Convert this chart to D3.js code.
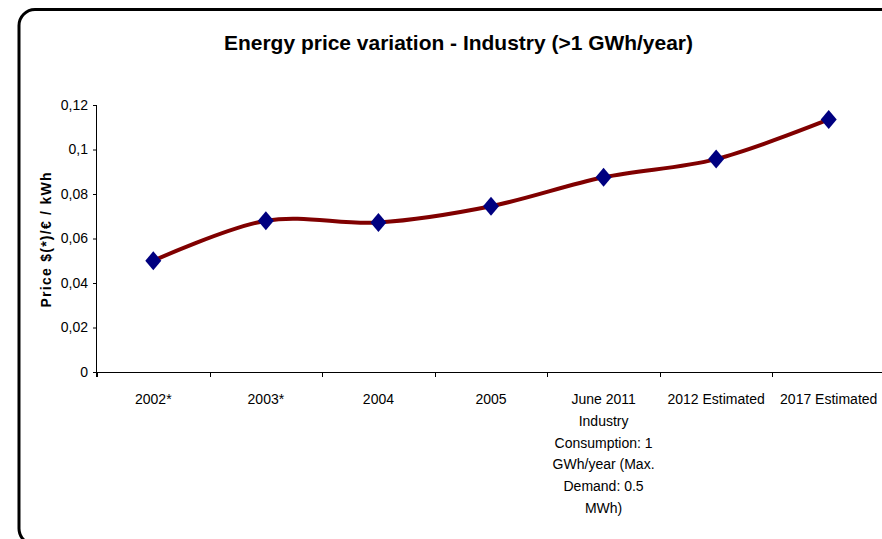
<!DOCTYPE html>
<html>
<head>
<meta charset="utf-8">
<script src="https://cdn.jsdelivr.net/npm/d3@7"></script>
<style>
  html, body { margin: 0; padding: 0; background: #fff; }
  svg { display: block; }
  text { font-family: "Liberation Sans", Arial, sans-serif; fill: #000; }
</style>
</head>
<body>
<svg id="chart" width="882" height="539"></svg>
<script>
const title = "Energy price variation - Industry (>1 GWh/year)";
const yAxisTitle = "Price $(*)/€ / kWh";
const categories = ["2002*", "2003*", "2004", "2005",
  "June 2011 Industry Consumption: 1 GWh/year (Max. Demand: 0.5 MWh)",
  "2012 Estimated", "2017 Estimated"];
const prices = [0.050, 0.068, 0.0672, 0.0745, 0.0875, 0.0957, 0.1135];
const yTicks = [0, 0.02, 0.04, 0.06, 0.08, 0.1, 0.12];

const svg = d3.select("#chart");

// outer rounded frame
svg.append("rect")
  .attr("x", 19).attr("y", 9.5)
  .attr("width", 900).attr("height", 535)
  .attr("rx", 16).attr("ry", 16)
  .attr("fill", "#fff").attr("stroke", "#000").attr("stroke-width", 3);

const plot = { left: 97, right: 885, top: 105, bottom: 372 };

const x = d3.scaleBand().domain(categories).range([plot.left, plot.right]);
const y = d3.scaleLinear().domain([0, 0.12]).range([plot.bottom, plot.top]);

const locale = d3.formatLocale({ decimal: ",", thousands: ".", grouping: [3], currency: ["", "€"] });
const fmt = locale.format("~g");

// title
svg.append("text")
  .attr("x", 458.5).attr("y", 50)
  .attr("text-anchor", "middle")
  .attr("font-size", 21).attr("font-weight", "bold")
  .attr("textLength", 469).attr("lengthAdjust", "spacingAndGlyphs")
  .text(title);

// y axis
const yAxis = svg.append("g")
  .attr("transform", `translate(${plot.left},0)`)
  .call(d3.axisLeft(y).tickValues(yTicks).tickFormat(fmt).tickSize(4).tickPadding(5));
yAxis.select(".domain").attr("stroke", "#000").attr("d", `M-0.5,${plot.top}V${plot.bottom + 5}`);
yAxis.selectAll(".tick line").attr("stroke", "#000");
yAxis.selectAll(".tick text").attr("font-size", 14).attr("font-family", "Liberation Sans, Arial, sans-serif");

// x axis
const xAxis = svg.append("g")
  .attr("transform", `translate(0,${plot.bottom})`)
  .call(d3.axisBottom(x).tickSize(0).tickPadding(0));
xAxis.select(".domain").attr("stroke", "#000").attr("d", `M${plot.left},0.5H${plot.right}`);
xAxis.selectAll(".tick line").remove();
// boundary ticks between categories
const bounds = categories.map(c => x(c)).concat([plot.right]);
xAxis.selectAll("line.bound").data(bounds).enter().append("line")
  .attr("class", "bound")
  .attr("x1", d => Math.round(d) + 0.5).attr("x2", d => Math.round(d) + 0.5)
  .attr("y1", 0).attr("y2", 5).attr("stroke", "#000");

// wrap x labels
xAxis.selectAll(".tick text").each(function(d) {
  const t = d3.select(this);
  t.text(null)
    .attr("font-size", 14).attr("font-family", "Liberation Sans, Arial, sans-serif")
    .attr("x", 0).attr("y", 0).attr("dy", null);
  const words = d.split(/\s+/);
  const maxW = 110;
  let lines = [], line = [];
  let tspan = t.append("tspan");
  words.forEach(w => {
    line.push(w);
    tspan.text(line.join(" "));
    if (tspan.node().getComputedTextLength() > maxW && line.length > 1) {
      line.pop();
      lines.push(line.join(" "));
      line = [w];
    }
  });
  lines.push(line.join(" "));
  t.text(null);
  lines.forEach((l, i) => {
    t.append("tspan").attr("x", 0).attr("y", 32 + i * 21.8).text(l);
  });
});

// y axis title
svg.append("text")
  .attr("transform", `translate(51,240) rotate(-90)`)
  .attr("text-anchor", "middle")
  .attr("font-size", 14).attr("font-weight", "bold")
  .attr("textLength", 135).attr("lengthAdjust", "spacing")
  .text(yAxisTitle);

// line
const pts = categories.map((c, i) => [x(c) + x.bandwidth() / 2, y(prices[i])]);
svg.append("path")
  .attr("d", d3.line().curve(d3.curveCatmullRom.alpha(0))(pts))
  .attr("fill", "none").attr("stroke", "#800000").attr("stroke-width", 4)
  .attr("stroke-linejoin", "round");

// diamonds
svg.selectAll("path.marker").data(pts).enter().append("path")
  .attr("class", "marker")
  .attr("transform", d => `translate(${d[0]},${d[1]})`)
  .attr("d", "M0,-9.5L8,0L0,9.5L-8,0Z")
  .attr("fill", "#000080");
</script>
</body>
</html>
